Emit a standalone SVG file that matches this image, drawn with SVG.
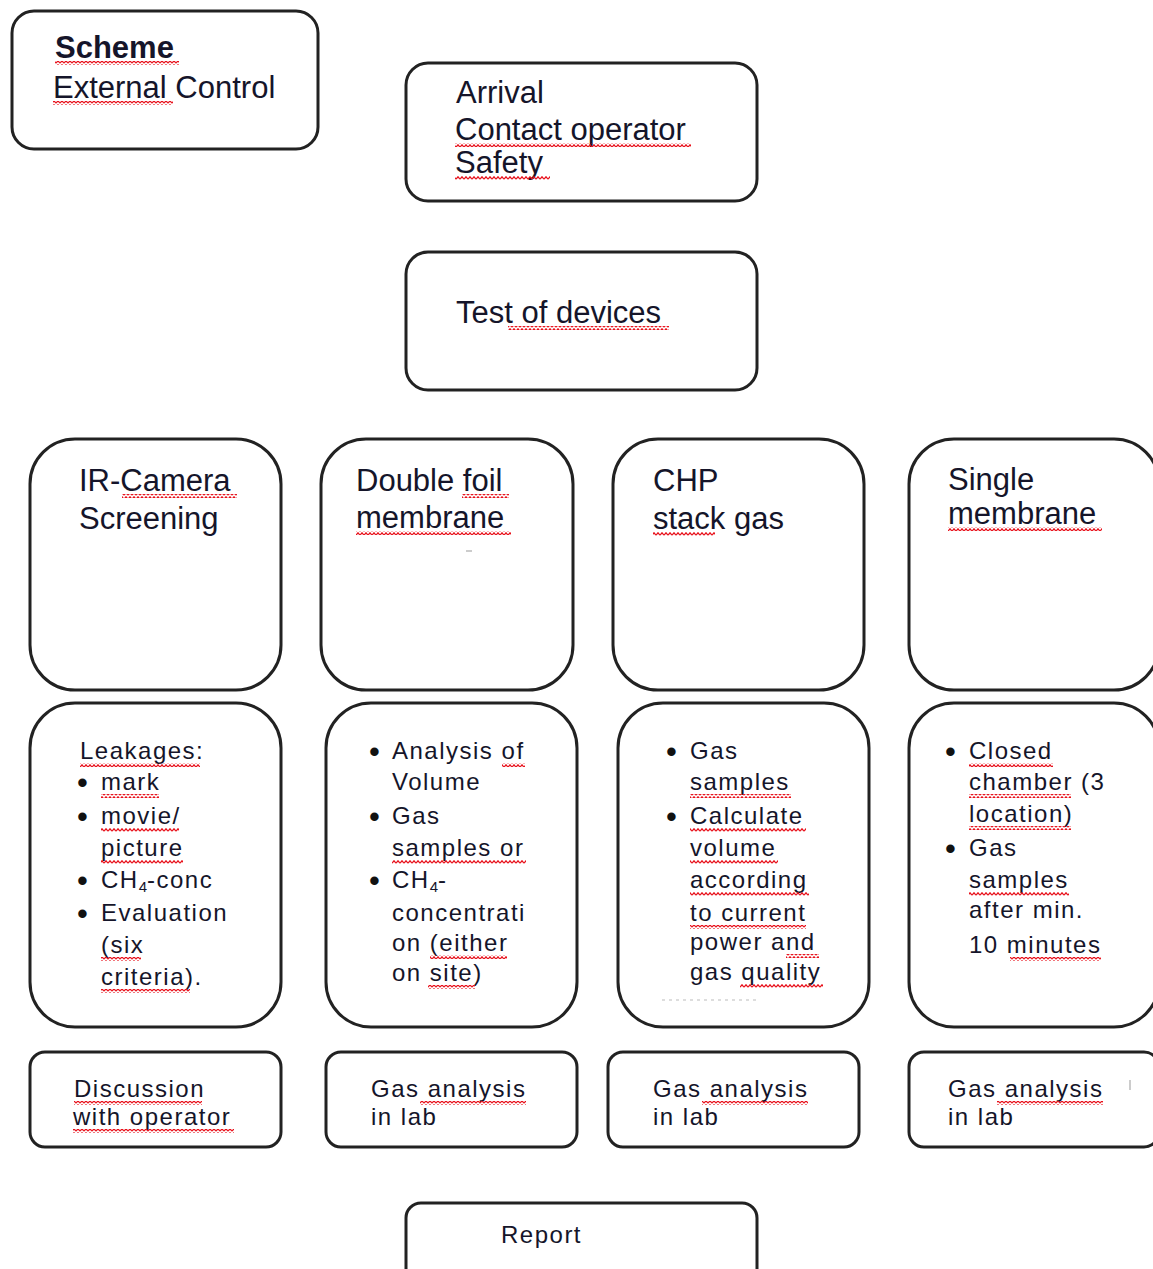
<svg xmlns="http://www.w3.org/2000/svg" width="1153" height="1269" viewBox="0 0 1153 1269">
<defs>
<pattern id="sq" width="4" height="4" patternUnits="userSpaceOnUse">
<path d="M0 3.2 L2 0.8 L4 3.2" fill="none" stroke="#e8101a" stroke-width="1.3"/>
</pattern>
<style>
.box{fill:#fff;stroke:#222;stroke-width:3}
.t{font-family:"Liberation Sans",Arial,sans-serif;font-size:31px;fill:#15152a}
.s{font-family:"Liberation Sans",Arial,sans-serif;font-size:24px;letter-spacing:1.5px;fill:#15152a}
.bl{font-family:"Liberation Sans",Arial,sans-serif;font-size:31px;fill:#111}
.b{font-weight:bold}
.sub{font-size:15px;letter-spacing:0}
.u{fill:url(#sq)}
</style>
</defs>
<rect width="1153" height="1269" fill="#fff"/>
<g id="connectors"></g>

<g id="scheme">
<rect class="box" x="12" y="11" width="306" height="138" rx="22"/>
<text class="t b" x="55" y="58" font-size="30">Scheme</text>
<text class="t" x="53" y="98">External Control</text>
<rect class="u" x="55" y="61" width="124" height="4"/>
<rect class="u" x="53" y="101" width="120" height="4"/>
</g>

<g id="arrival">
<rect class="box" x="406" y="63" width="351" height="138" rx="22"/>
<text class="t" x="456" y="103">Arrival</text>
<text class="t" x="455" y="140">Contact operator</text>
<text class="t" x="455" y="173">Safety</text>
<rect class="u" x="455" y="143" width="236" height="4"/>
<rect class="u" x="455" y="176" width="95" height="4"/>
</g>

<g id="test">
<rect class="box" x="406" y="252" width="351" height="138" rx="22"/>
<text class="t" x="456" y="323">Test of devices</text>
<rect class="u" x="508" y="326" width="161" height="4"/>
</g>

<g id="ir-camera">
<rect class="box" x="30" y="439" width="251" height="251" rx="45"/>
<text class="t" x="79" y="491">IR-Camera</text>
<text class="t" x="79" y="529">Screening</text>
<rect class="u" x="122" y="494" width="115" height="4"/>
</g>

<g id="double-foil">
<rect class="box" x="321" y="439" width="252" height="251" rx="45"/>
<text class="t" x="356" y="491">Double foil</text>
<text class="t" x="356" y="528">membrane</text>
<rect class="u" x="462" y="494" width="47" height="4"/>
<rect class="u" x="356" y="531" width="155" height="4"/>
<line x1="466" y1="551" x2="472" y2="551" stroke="#999" stroke-width="1"/>
</g>

<g id="chp">
<rect class="box" x="613" y="439" width="251" height="251" rx="45"/>
<text class="t" x="653" y="491">CHP</text>
<text class="t" x="653" y="529">stack gas</text>
<rect class="u" x="653" y="532" width="62" height="4"/>
</g>

<g id="single">
<rect class="box" x="909" y="439" width="250" height="251" rx="45"/>
<text class="t" x="948" y="490">Single</text>
<text class="t" x="948" y="524">membrane</text>
<rect class="u" x="948" y="527" width="154" height="4"/>
</g>

<g id="ir-details">
<rect class="box" x="30" y="703" width="251" height="324" rx="45"/>
<text class="s" x="80" y="759">Leakages:</text>
<text class="bl" x="77" y="793">•</text><text class="s" x="101" y="790">mark</text>
<text class="bl" x="77" y="827">•</text><text class="s" x="101" y="824">movie/</text>
<text class="s" x="101" y="856">picture</text>
<text class="bl" x="77" y="891">•</text><text class="s" x="101" y="888">CH<tspan class="sub" dy="4">4</tspan><tspan dy="-4">-conc</tspan></text>
<text class="bl" x="77" y="924">•</text><text class="s" x="101" y="921">Evaluation</text>
<text class="s" x="101" y="953">(six</text>
<text class="s" x="101" y="985">criteria).</text>
<rect class="u" x="80" y="763" width="120" height="4"/>
<rect class="u" x="101" y="794" width="58" height="4"/>
<rect class="u" x="101" y="828" width="78" height="4"/>
<rect class="u" x="101" y="860" width="82" height="4"/>
<rect class="u" x="101" y="957" width="40" height="4"/>
<rect class="u" x="101" y="989" width="89" height="4"/>
</g>

<g id="double-details">
<rect class="box" x="326" y="703" width="251" height="324" rx="45"/>
<text class="bl" x="369" y="762">•</text><text class="s" x="392" y="759">Analysis of</text>
<text class="s" x="392" y="790">Volume</text>
<text class="bl" x="369" y="827">•</text><text class="s" x="392" y="824">Gas</text>
<text class="s" x="392" y="856">samples or</text>
<text class="bl" x="369" y="891">•</text><text class="s" x="392" y="888">CH<tspan class="sub" dy="4">4</tspan><tspan dy="-4">-</tspan></text>
<text class="s" x="392" y="921">concentrati</text>
<text class="s" x="392" y="951">on (either</text>
<text class="s" x="392" y="981">on site)</text>
<rect class="u" x="502" y="763" width="23" height="4"/>
<rect class="u" x="392" y="860" width="134" height="4"/>
<rect class="u" x="430" y="955" width="77" height="4"/>
<rect class="u" x="428" y="985" width="47" height="4"/>
</g>

<g id="chp-details">
<rect class="box" x="618" y="703" width="251" height="324" rx="45"/>
<text class="bl" x="666" y="762">•</text><text class="s" x="690" y="759">Gas</text>
<text class="s" x="690" y="790">samples</text>
<text class="bl" x="666" y="827">•</text><text class="s" x="690" y="824">Calculate</text>
<text class="s" x="690" y="856">volume</text>
<text class="s" x="690" y="888">according</text>
<text class="s" x="690" y="921">to current</text>
<text class="s" x="690" y="950">power and</text>
<text class="s" x="690" y="980">gas quality</text>
<rect class="u" x="690" y="794" width="101" height="4"/>
<rect class="u" x="690" y="828" width="116" height="4"/>
<rect class="u" x="690" y="860" width="88" height="4"/>
<rect class="u" x="690" y="892" width="119" height="4"/>
<rect class="u" x="690" y="925" width="116" height="4"/>
<rect class="u" x="786" y="954" width="33" height="4"/>
<rect class="u" x="740" y="984" width="83" height="4"/>
<line x1="662" y1="1000" x2="756" y2="1000" stroke="#bbb" stroke-width="1.2" stroke-dasharray="3 4"/>
</g>

<g id="single-details">
<rect class="box" x="909" y="703" width="250" height="324" rx="45"/>
<text class="bl" x="945" y="762">•</text><text class="s" x="969" y="759">Closed</text>
<text class="s" x="969" y="790">chamber (3</text>
<text class="s" x="969" y="822">location)</text>
<text class="bl" x="945" y="859">•</text><text class="s" x="969" y="856">Gas</text>
<text class="s" x="969" y="888">samples</text>
<text class="s" x="969" y="918">after min.</text>
<text class="s" x="969" y="953">10 minutes</text>
<rect class="u" x="969" y="763" width="84" height="4"/>
<rect class="u" x="969" y="794" width="102" height="4"/>
<rect class="u" x="969" y="826" width="102" height="4"/>
<rect class="u" x="969" y="892" width="100" height="4"/>
<rect class="u" x="1010" y="957" width="91" height="4"/>
</g>

<g id="discussion">
<rect class="box" x="30" y="1052" width="251" height="95" rx="15"/>
<text class="s" x="74" y="1097">Discussion</text>
<text class="s" x="73" y="1125">with operator</text>
<rect class="u" x="74" y="1101" width="128" height="4"/>
<rect class="u" x="73" y="1129" width="161" height="4"/>
</g>

<g id="lab-1">
<rect class="box" x="326" y="1052" width="251" height="95" rx="15"/>
<text class="s" x="371" y="1097">Gas analysis</text>
<text class="s" x="371" y="1125">in lab</text>
<rect class="u" x="420" y="1101" width="106" height="4"/>
</g>

<g id="lab-2">
<rect class="box" x="608" y="1052" width="251" height="95" rx="15"/>
<text class="s" x="653" y="1097">Gas analysis</text>
<text class="s" x="653" y="1125">in lab</text>
<rect class="u" x="702" y="1101" width="106" height="4"/>
</g>

<g id="lab-3">
<rect class="box" x="909" y="1052" width="250" height="95" rx="15"/>
<text class="s" x="948" y="1097">Gas analysis</text>
<text class="s" x="948" y="1125">in lab</text>
<rect class="u" x="997" y="1101" width="106" height="4"/>
<line x1="1130" y1="1080" x2="1130" y2="1090" stroke="#bbb" stroke-width="1.5"/>
</g>

<g id="report">
<rect class="box" x="406" y="1203" width="351" height="85" rx="15"/>
<text class="s" x="501" y="1243">Report</text>
</g>
</svg>
